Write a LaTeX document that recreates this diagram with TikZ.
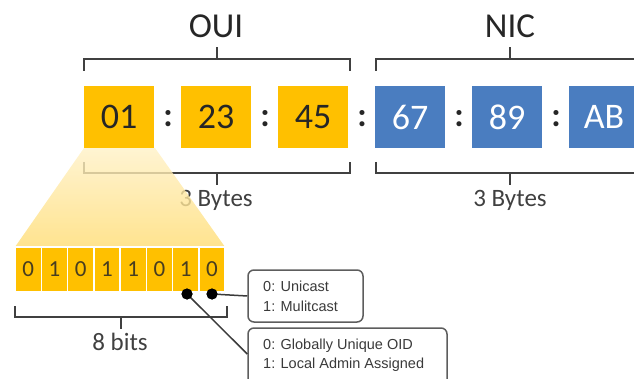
\documentclass[tikz,border=0pt]{standalone}
\usepackage{fontspec}
\setmainfont{Carlito}
\newfontfamily\boxfont{Liberation Sans}
\definecolor{gold}{HTML}{FFC000}
\definecolor{nicblue}{HTML}{4A7DC0}
\definecolor{brk}{HTML}{404040}
\definecolor{ink}{HTML}{262626}
\definecolor{infotxt}{HTML}{3A3A3A}
\tikzset{
  ouibyte/.style={fill=gold, minimum width=70pt, minimum height=62pt, inner sep=0pt, text=ink, font=\fontsize{36}{36}\selectfont},
  nicbyte/.style={fill=nicblue, minimum width=70pt, minimum height=62pt, inner sep=0pt, text=white, font=\fontsize{36}{36}\selectfont},
  colon/.style={inner sep=0pt, text=ink, font=\bfseries\fontsize{34}{34}\selectfont},
  bitcell/.style={fill=gold, draw=white, line width=1.5pt, minimum width=26.25pt, minimum height=45pt, inner sep=0pt, text=ink!85!gold, font=\fontsize{23}{23}\selectfont},
  bracket/.style={draw=brk, line width=1.6pt},
  title/.style={inner sep=0pt, text=ink, font=\fontsize{35}{35}\selectfont},
  size/.style={inner sep=0pt, text=brk, font=\fontsize{25}{25}\selectfont},
  info/.style={draw=brk!85, line width=1.5pt, rounded corners=6pt, inner sep=0pt},
  infotext/.style={inner sep=0pt, anchor=west, text=infotxt, font=\boxfont\fontsize{14.5}{14.5}\selectfont},
  bitdot/.style={circle, fill=black, minimum size=11pt, inner sep=0pt},
  wire/.style={draw=brk!90!black, line width=1.5pt}
}
\begin{document}
\begin{tikzpicture}[x=1pt, y=-1pt]
\useasboundingbox (0,0) rectangle (634,379);
\clip (0,0) rectangle (634,379);
% titles
\node[title] (oui) at (216,26) {OUI};
\node[title] (nic) at (510,26) {NIC};
% brackets OUI
\draw[bracket] (84,71) -- (84,59) -- (350,59) -- (350,71);
\draw[bracket] (217,59) -- (217,47);
\draw[bracket] (84,162) -- (84,173) -- (350,173) -- (350,162);
\draw[bracket] (217,173) -- (217,185);
% brackets NIC
\draw[bracket] (376,71) -- (376,59) -- (644,59) -- (644,71);
\draw[bracket] (510,59) -- (510,47);
\draw[bracket] (376,162) -- (376,173) -- (644,173) -- (644,162);
\draw[bracket] (510,173) -- (510,185);
\node[size] (ouisize) at (216,200) {3 Bytes};
\node[size] (nicsize) at (510,200) {3 Bytes};
% fan
\shade[top color=gold!22, bottom color=gold!55, fill opacity=0.8] (84,148) -- (155,148) -- (225,247) -- (15,247) -- cycle;
% bytes
\node[ouibyte] (b1) at (119,117) {01};
\node[ouibyte] (b2) at (216,117) {23};
\node[ouibyte] (b3) at (313,117) {45};
\node[nicbyte] (b4) at (410,117) {67};
\node[nicbyte] (b5) at (507,117) {89};
\node[nicbyte] (b6) at (604,117) {AB};
\node[colon] (c1) at (168,119) {:};
\node[colon] (c2) at (265,119) {:};
\node[colon] (c3) at (362,119) {:};
\node[colon] (c4) at (459,119) {:};
\node[colon] (c5) at (556,119) {:};
% bits
\foreach \b [count=\i from 0] in {0,1,0,1,1,0,1,0} {
  \node[bitcell] (bit\i) at ({15+26.25*\i+13.125},269.5) {\b};
}
% 8 bits bracket
\draw[bracket] (15,306) -- (15,317) -- (227,317) -- (227,306);
\draw[bracket] (121,317) -- (121,329);
\node[size] (bits) at (120,342) {8 bits};
% info boxes
\node[info, minimum width=115pt, minimum height=52pt] (uni) at (305.5,296) {};
\node[infotext] (uni0) at (263,286) {0: Unicast};
\node[infotext] (uni1) at (263,306) {1: Mulitcast};
\node[info, minimum width=199pt, minimum height=60pt] (glob) at (347.5,358) {};
\node[infotext] (glob0) at (263,346) {0: Globally Unique OID};
\node[infotext] (glob1) at (263,365) {1: Local Admin Assigned};
% dots and wires
\node[bitdot] (d1) at (187,294) {};
\node[bitdot] (d0) at (212,294) {};
\coordinate (gend) at ([yshift=4pt]glob.west);
\draw[wire] (d0.center) -- (uni.west);
\draw[wire] (d1.center) -- (gend);
\node[bitdot] at (d1) {};
\node[bitdot] at (d0) {};
\end{tikzpicture}
\end{document}
